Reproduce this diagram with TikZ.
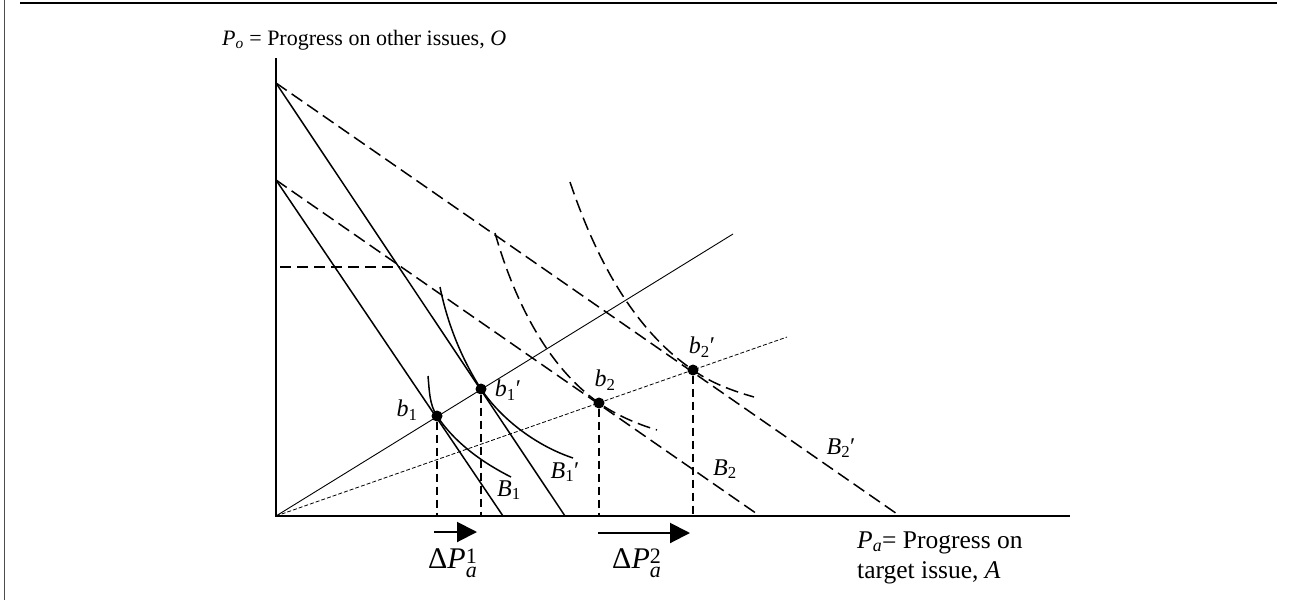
\documentclass[tikz,border=0pt]{standalone}
\usepackage{fontspec}
\setmainfont{Liberation Serif}
\usetikzlibrary{arrows.meta}
\begin{document}
\begin{tikzpicture}[x=1pt,y=-1pt,
  frame/.style={line width=1.5pt},
  axis/.style={line width=2pt},
  budget/.style={line width=1.5pt},
  dbudget/.style={line width=1.5pt, dash pattern=on 13pt off 6pt},
  ray/.style={line width=0.9pt},
  dray/.style={line width=0.8pt, dash pattern=on 4pt off 2pt},
  drop/.style={line width=1.3pt, dash pattern=on 8pt off 5pt},
  hdash/.style={line width=1.3pt, dash pattern=on 11pt off 6pt},
  indiff/.style={line width=1.5pt},
  dindiff/.style={line width=1.5pt, dash pattern=on 13pt off 6pt},
  dot/.style={circle, fill, inner sep=0pt, minimum size=11pt},
  lbl/.style={font=\fontsize{24}{28}\selectfont, inner sep=0pt},
  biglbl/.style={font=\fontsize{30}{34}\selectfont, inner sep=0pt, anchor=base west},
  shiftarrow/.style={line width=2pt, -{Triangle[length=20pt,width=20pt]}}]
\useasboundingbox (0,0) rectangle (1289,600);
% frame
\draw[frame] (20,3) -- (1277,3);
\draw[line width=1pt, black!70] (4,0) -- (4,600);
% axes
\coordinate (O) at (276,516);
\coordinate (Ytop) at (276,58);
\coordinate (Xend) at (1070,516);
\draw[axis] (Ytop) -- (O) -- (Xend);
% intercepts
\coordinate (Y1) at (276,180);
\coordinate (Y2) at (276,83);
\coordinate (XB1) at (503,516);
\coordinate (XB1p) at (565,516);
\coordinate (XB2) at (760,516);
\coordinate (XB2p) at (900,516);
% budget lines
\draw[budget] (Y1) -- (XB1);
\draw[budget] (Y2) -- (XB1p);
\draw[dbudget] (Y1) -- (XB2);
\draw[dbudget] (Y2) -- (XB2p);
% horizontal dashed
\coordinate (H0) at (280,267);
\coordinate (H1) at (400,267);
\draw[hdash] (H0) -- (H1);
% rays
\coordinate (R1) at (733,234);
\coordinate (R2) at (787,337);
\draw[ray] (O) -- (R1);
\draw[dray] (O) -- (R2);
% points
\node[dot] (b1) at (437,416) {};
\node[dot] (b1p) at (481,389) {};
\node[dot] (b2) at (599,403) {};
\node[dot] (b2p) at (693,370) {};
% drop lines
\coordinate (d1) at (437,516);
\coordinate (d2) at (481,516);
\coordinate (d3) at (599,516);
\coordinate (d4) at (693,516);
\draw[drop] (b1) -- (d1);
\draw[drop] (b1p) -- (d2);
\draw[drop] (b2) -- (d3);
\draw[drop] (b2p) -- (d4);
% indifference curves
\draw[indiff] (428,376) .. controls (429.4,390) and (429.2,404.4) .. (b1.center)
  .. controls (455,443) and (482.5,462.6) .. (511,477);
\draw[indiff] (440,287) .. controls (447,322) and (461,358) .. (b1p.center)
  .. controls (502,420) and (537,446) .. (573,458);
\draw[dindiff] (495,233) .. controls (513,296) and (545,365) .. (b2.center)
  .. controls (616,415) and (637,424) .. (657,430);
\draw[dindiff] (570,182) .. controls (594,253) and (631,328) .. (b2p.center)
  .. controls (711,383) and (733,391) .. (754,397);
% point labels
\node[lbl] (lb1) at (407,410) {\textit{b}\textsubscript{1}};
\node[lbl] (lb1p) at (508,390) {\textit{b}\textsubscript{1}′};
\node[lbl] (lb2) at (605,380) {\textit{b}\textsubscript{2}};
\node[lbl] (lb2p) at (702,347) {\textit{b}\textsubscript{2}′};
% line labels
\node[lbl] (lB1) at (509,490) {\textit{B}\textsubscript{1}};
\node[lbl] (lB1p) at (565,472) {\textit{B}\textsubscript{1}′};
\node[lbl] (lB2) at (725,469) {\textit{B}\textsubscript{2}};
\node[lbl] (lB2p) at (841,448) {\textit{B}\textsubscript{2}′};
% axis labels
\node[lbl, anchor=base west, font=\fontsize{22}{26}\selectfont] (ylab) at (222,45)
  {\textit{P}\textsubscript{\textit{o}} = Progress on other issues, \textit{O}};
\node[lbl, anchor=base west, align=left, font=\fontsize{25.5}{30}\selectfont] (xlab) at (857,578)
  {\textit{P}\textsubscript{\textit{a}}= Progress on\\target issue, \textit{A}};
% shift arrows
\coordinate (a1s) at (434,532);
\coordinate (a1e) at (477,532);
\coordinate (a2s) at (598,533);
\coordinate (a2e) at (690,533);
\draw[shiftarrow] (a1s) -- (a1e);
\draw[shiftarrow] (a2s) -- (a2e);
\node[biglbl] (dp1) at (428,568) {Δ\textit{P}\rlap{\raisebox{5pt}{\fontsize{22}{22}\selectfont 1}}\raisebox{-9pt}{\fontsize{22}{22}\selectfont\textit{a}}};
\node[biglbl] (dp2) at (612,568) {Δ\textit{P}\rlap{\raisebox{5pt}{\fontsize{22}{22}\selectfont 2}}\raisebox{-9pt}{\fontsize{22}{22}\selectfont\textit{a}}};
\end{tikzpicture}
\end{document}
